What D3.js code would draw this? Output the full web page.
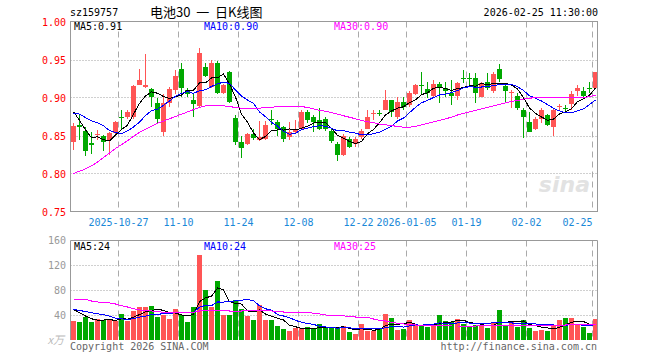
<!DOCTYPE html>
<html>
<head>
<meta charset="utf-8">
<script src="https://cdn.jsdelivr.net/npm/d3@7"></script>
<style>
body { margin: 0; background: #fff; }
svg { display: block; }
text { font-family: "DejaVu Sans Mono", monospace; font-size: 10px; }
</style>
</head>
<body>
<div id="chart"></div>
<script>
// trading days shown (88 sessions)
var dates = [
  "2025-10-15","2025-10-16","2025-10-17","2025-10-20","2025-10-21","2025-10-22","2025-10-23","2025-10-24",
  "2025-10-27","2025-10-28","2025-10-29","2025-10-30","2025-10-31",
  "2025-11-03","2025-11-04","2025-11-05","2025-11-06","2025-11-07","2025-11-10","2025-11-11","2025-11-12","2025-11-13","2025-11-14",
  "2025-11-17","2025-11-18","2025-11-19","2025-11-20","2025-11-21","2025-11-24","2025-11-25","2025-11-26","2025-11-27","2025-11-28",
  "2025-12-01","2025-12-02","2025-12-03","2025-12-04","2025-12-05","2025-12-08","2025-12-09","2025-12-10","2025-12-11","2025-12-12",
  "2025-12-15","2025-12-16","2025-12-17","2025-12-18","2025-12-19","2025-12-22","2025-12-23","2025-12-24","2025-12-25","2025-12-26",
  "2025-12-29","2025-12-30","2025-12-31",
  "2026-01-05","2026-01-06","2026-01-07","2026-01-08","2026-01-09","2026-01-12","2026-01-13","2026-01-14","2026-01-15","2026-01-16",
  "2026-01-19","2026-01-20","2026-01-21","2026-01-22","2026-01-23","2026-01-26","2026-01-27","2026-01-28","2026-01-29","2026-01-30",
  "2026-02-02","2026-02-03","2026-02-04","2026-02-05","2026-02-06","2026-02-09","2026-02-10","2026-02-11","2026-02-12","2026-02-13",
  "2026-02-24","2026-02-25"
];

var opens = [0.842,0.864,0.856,0.840,0.851,0.850,0.844,0.853,0.875,0.874,0.874,0.917,0.914,0.911,0.893,0.855,0.893,0.910,0.937,0.910,
  0.897,0.889,0.940,0.914,0.946,0.906,0.933,0.873,0.842,0.839,0.852,0.844,0.845,0.872,0.868,0.861,0.848,0.855,0.858,0.881,
  0.875,0.870,0.872,0.856,0.839,0.824,0.846,0.839,0.848,0.859,0.878,0.880,0.883,0.897,0.874,0.894,0.890,0.905,0.916,0.911,
  0.902,0.918,0.912,0.906,0.902,0.925,0.925,0.925,0.901,0.921,0.908,0.937,0.915,0.906,0.902,0.884,0.868,0.858,0.872,0.877,
  0.861,0.888,0.886,0.892,0.908,0.908,0.913,0.912];
var highs = [0.866,0.877,0.861,0.855,0.857,0.851,0.855,0.869,0.884,0.884,0.916,0.938,0.957,0.913,0.899,0.905,0.914,0.936,0.946,0.913,
  0.904,0.965,0.946,0.949,0.948,0.918,0.935,0.877,0.849,0.853,0.858,0.869,0.869,0.883,0.870,0.862,0.868,0.870,0.883,0.883,
  0.877,0.886,0.874,0.858,0.842,0.852,0.848,0.848,0.859,0.884,0.883,0.883,0.910,0.897,0.900,0.900,0.908,0.918,0.933,0.921,
  0.923,0.921,0.921,0.923,0.921,0.936,0.932,0.932,0.921,0.932,0.933,0.944,0.919,0.910,0.906,0.886,0.881,0.874,0.886,0.878,
  0.886,0.892,0.890,0.908,0.916,0.914,0.921,0.934];
var lows = [0.831,0.844,0.823,0.826,0.844,0.829,0.824,0.852,0.859,0.872,0.872,0.916,0.913,0.888,0.867,0.849,0.888,0.904,0.901,0.900,
  0.875,0.888,0.927,0.913,0.905,0.905,0.893,0.837,0.820,0.837,0.844,0.843,0.844,0.864,0.850,0.842,0.844,0.853,0.857,0.867,
  0.854,0.857,0.856,0.840,0.817,0.823,0.833,0.835,0.846,0.858,0.870,0.876,0.883,0.875,0.872,0.883,0.888,0.903,0.903,0.899,
  0.901,0.893,0.901,0.890,0.897,0.919,0.916,0.893,0.900,0.910,0.906,0.921,0.893,0.886,0.884,0.847,0.855,0.857,0.866,0.862,
  0.849,0.883,0.881,0.883,0.902,0.901,0.906,0.911];
var closes = [0.862,0.861,0.829,0.838,0.852,0.842,0.853,0.868,0.874,0.881,0.915,0.923,0.917,0.901,0.872,0.893,0.911,0.928,0.912,0.905,
  0.892,0.959,0.928,0.945,0.906,0.916,0.894,0.842,0.833,0.852,0.847,0.848,0.864,0.870,0.858,0.846,0.855,0.858,0.881,0.870,
  0.868,0.858,0.858,0.843,0.824,0.850,0.835,0.845,0.856,0.875,0.879,0.879,0.897,0.881,0.894,0.888,0.906,0.916,0.915,0.906,
  0.918,0.912,0.908,0.902,0.919,0.924,0.924,0.906,0.919,0.912,0.931,0.924,0.908,0.907,0.886,0.875,0.855,0.872,0.884,0.864,
  0.883,0.889,0.885,0.904,0.912,0.902,0.912,0.933];
// closes of the sessions just before the window (for MA5 / MA10)
var priorCloses = [0.870,0.875,0.880,0.878,0.882,0.916,0.894,0.888,0.846];
var ma30Price = [0.800,0.803,0.806,0.810,0.815,0.821,0.827,0.833,0.838,0.843,0.849,0.854,0.858,0.862,0.866,0.869,0.872,0.875,0.878,0.881,
  0.884,0.887,0.889,0.890,0.890,0.889,0.888,0.887,0.886,0.886,0.886,0.886,0.887,0.887,0.888,0.888,0.888,0.888,0.888,0.887,
  0.885,0.883,0.882,0.880,0.878,0.876,0.874,0.872,0.870,0.868,0.867,0.865,0.864,0.863,0.862,0.861,0.861,0.862,0.864,0.866,
  0.868,0.870,0.872,0.874,0.877,0.879,0.881,0.883,0.885,0.887,0.889,0.891,0.893,0.895,0.896,0.898,0.899,0.900,0.900,0.900,
  0.900,0.900,0.900,0.900,0.900,0.900,0.901,0.903];

// volume, 10k lots
var volumes = [30.9,28.8,36.3,28.8,33.6,32,32,30.9,41.6,30.9,46.9,52.8,52.8,54.4,37.3,40.5,33.6,49.6,39.5,28.8,
  52.8,136,80,52.8,94.4,40,40,64,49,39,32,56,32,32,22.4,17.6,14.4,19.7,18.7,20.3,
  17,25.6,20.3,18.7,18.7,22.4,12.8,9.6,25.6,14.9,14.9,19.2,41.6,35.2,16,17.6,32,24,22.4,21.3,
  24,40,30.4,28.8,33.6,25.6,21.3,24,22.4,19.2,28.8,48,22.4,28.8,20.8,32,18.7,14.9,16,14.4,
  24.5,32,35.2,35.2,24.5,20.8,11.2,33.6];
var priorVolumes = [48,50,49,50,48,55.3,62.8,50.8,45.2];
var ma30Vol = [65.6,65.6,65,62.4,60.8,59.7,59.2,57.6,55,52.8,50,48,46.9,46.4,45.3,44.3,44.3,43.7,43.7,44.3,
  44.3,46.4,46.9,47.5,47.5,46.9,46.4,46.4,46.4,46.9,46.9,47.5,47.5,46.4,45.3,44.8,44.8,44.8,44.3,44.3,
  42.7,41.6,40,39.5,39.5,38.9,37.3,36.8,36.8,36.3,33.6,31.5,30.4,28.3,26.7,25.6,24.5,24,23.5,22.9,
  22.9,22.6,22.6,22.4,22.4,22.4,22.4,22.4,22.6,22.6,22.9,22.9,23.2,23.2,23.5,23.5,23.5,23.5,23.7,23.7,
  24,24,24,24.3,24.3,24.5,24.5,24.5];

var tickDates = ["2025-10-27","2025-11-10","2025-11-24","2025-12-08","2025-12-22","2026-01-05","2026-01-19","2026-02-02","2026-02-25"];
var tickLabels = ["2025-10-27","11-10","11-24","12-08","12-22","2026-01-05","01-19","02-02","02-25"];
var priceTicks = [0.75,0.80,0.85,0.90,0.95,1.00];
var volTicks = [40,80,120,160];
var priceLegend = ["MA5:0.91","MA10:0.90","MA30:0.90"];
var volLegend = ["MA5:24","MA10:24","MA30:25"];
var maColors = ["#000000","#0000ff","#ff00ff"];

var width = 660, height = 360;
var left = 70.5, right = 597.5;
var upColor = "#ff5555", downColor = "#00a800";

function movingAvg(prior, vals, n) {
  var all = prior.concat(vals);
  return vals.map(function(v, i) {
    var end = i + prior.length + 1;
    return d3.mean(all.slice(end - n, end));
  });
}

var svg = d3.select("#chart").append("svg")
  .attr("width", width)
  .attr("height", height);

var idx = d3.range(dates.length);
var x = d3.scaleBand().domain(idx).range([70.5, 70.5 + 6 * dates.length]).padding(0);
var y = d3.scaleLinear().domain([0.75, 1.0]).range([211.5, 21.5]);
var yv = d3.scaleLinear().domain([0, 160]).range([340, 240]);

// header
svg.append("text").attr("x", 70).attr("y", 16).attr("fill", "#000").text("sz159757");
svg.append("text").attr("x", 150).attr("y", 17)
  .attr("xml:space", "preserve").style("white-space", "pre")
  .style("font-family", "'Noto Sans CJK SC', sans-serif").style("font-size", "13px")
  .attr("fill", "#000").text("电池30  一  日K线图");
svg.append("text").attr("x", 598).attr("y", 16).attr("text-anchor", "end").attr("fill", "#000")
  .text("2026-02-25 11:30:00");

// watermark
svg.append("text").attr("x", 590).attr("y", 192).attr("text-anchor", "end")
  .style("font-family", "'DejaVu Sans', sans-serif").style("font-size", "22px")
  .style("font-style", "italic").style("font-weight", "bold")
  .attr("fill", "#e2e2e2").text("sina");

var tickIdx = tickDates.map(function(d) { return dates.indexOf(d); });

function drawGrid(g, yScale, hTicks, top, bottom) {
  g.selectAll(".hg").data(hTicks).enter().append("line")
    .attr("x1", left).attr("x2", right)
    .attr("y1", function(d) { return Math.round(yScale(d)) + 0.5; })
    .attr("y2", function(d) { return Math.round(yScale(d)) + 0.5; })
    .attr("stroke", "#a0a0a0").attr("stroke-dasharray", "1,2");
  g.selectAll(".vg").data(tickIdx).enter().append("line")
    .attr("x1", function(i) { return x(i); }).attr("x2", function(i) { return x(i); })
    .attr("y1", top).attr("y2", bottom)
    .attr("stroke", "#aaaaaa").attr("stroke-dasharray", "6,4");
}

// ---------- price panel ----------
var main = svg.append("g");
drawGrid(main, y, [0.80, 0.85, 0.90, 0.95], 21.5, 211.5);

main.selectAll(".ylab").data(priceTicks).enter().append("text")
  .attr("x", 66).attr("y", function(d) { return y(d) + 4; })
  .attr("text-anchor", "end").attr("fill", "#ff0000")
  .text(function(d) { return d.toFixed(2); });

main.selectAll(".xlab").data(tickIdx).enter().append("text")
  .attr("x", function(i, k) { return x(i); })
  .attr("y", 226)
  .attr("text-anchor", function(i, k) { return k == tickIdx.length - 1 ? "end" : "middle"; })
  .attr("fill", "#1a88d8")
  .text(function(i, k) { return tickLabels[k]; });

var candles = main.selectAll(".c").data(idx).enter().append("g");
candles.append("rect")
  .attr("x", function(i) { return x(i) + 2.5; })
  .attr("width", 1)
  .attr("y", function(i) { return Math.round(y(highs[i])); })
  .attr("height", function(i) { return Math.max(1, Math.round(y(lows[i])) - Math.round(y(highs[i]))); })
  .attr("fill", function(i) { return closes[i] >= opens[i] ? upColor : downColor; });
candles.append("rect")
  .attr("x", function(i) { return x(i) + 0.5; })
  .attr("width", 5)
  .attr("y", function(i) { return Math.round(y(Math.max(opens[i], closes[i]))); })
  .attr("height", function(i) { return Math.max(1, Math.round(y(Math.min(opens[i], closes[i]))) - Math.round(y(Math.max(opens[i], closes[i])))); })
  .attr("fill", function(i) { return closes[i] >= opens[i] ? upColor : downColor; });

var priceMAs = [movingAvg(priorCloses, closes, 5), movingAvg(priorCloses, closes, 10), ma30Price];
var priceLine = function(arr) {
  return d3.line().x(function(d, i) { return x(i) + 3; }).y(function(d) { return y(d); })(arr);
};
priceMAs.forEach(function(arr, k) {
  main.append("path").attr("d", priceLine(arr))
    .attr("fill", "none").attr("stroke", maColors[k]).attr("stroke-width", 1)
    .attr("shape-rendering", "crispEdges");
});

main.append("rect").attr("x", left).attr("y", 21.5).attr("width", right - left).attr("height", 190)
  .attr("fill", "none").attr("stroke", "#999");

[74, 204, 334].forEach(function(px, k) {
  main.append("text").attr("x", px).attr("y", 30).attr("fill", maColors[k]).text(priceLegend[k]);
});

// ---------- volume panel ----------
var vol = svg.append("g");
drawGrid(vol, yv, [40, 80, 120], 240.5, 340);

vol.selectAll(".ylab").data(volTicks).enter().append("text")
  .attr("x", 66).attr("y", function(d) { return yv(d) + 4; })
  .attr("text-anchor", "end").attr("fill", "#999")
  .text(function(d) { return d; });
vol.append("text").attr("x", 64).attr("y", 344).attr("text-anchor", "end")
  .style("font-family", "'Noto Sans CJK SC', sans-serif").style("font-size", "11px")
  .style("font-style", "italic").attr("fill", "#bbb").text("x万");

vol.selectAll(".bar").data(idx).enter().append("rect")
  .attr("x", function(i) { return x(i) + 0.5; })
  .attr("width", 5)
  .attr("y", function(i) { return Math.round(yv(volumes[i])); })
  .attr("height", function(i) { return 340 - Math.round(yv(volumes[i])); })
  .attr("fill", function(i) { return closes[i] >= opens[i] ? upColor : downColor; });

var volMAs = [movingAvg(priorVolumes, volumes, 5), movingAvg(priorVolumes, volumes, 10), ma30Vol];
var volLine = function(arr) {
  return d3.line().x(function(d, i) { return x(i) + 3; }).y(function(d) { return yv(d); })(arr);
};
volMAs.forEach(function(arr, k) {
  vol.append("path").attr("d", volLine(arr))
    .attr("fill", "none").attr("stroke", maColors[k]).attr("stroke-width", 1)
    .attr("shape-rendering", "crispEdges");
});

vol.append("path").attr("d", "M" + left + ",340V240.5H" + right + "V340")
  .attr("fill", "none").attr("stroke", "#999");

[74, 204, 334].forEach(function(px, k) {
  vol.append("text").attr("x", px).attr("y", 250).attr("fill", maColors[k]).text(volLegend[k]);
});

svg.append("text").attr("x", 70).attr("y", 350).attr("fill", "#666").text("Copyright 2026 SINA.COM");
svg.append("text").attr("x", 597).attr("y", 350).attr("text-anchor", "end").attr("fill", "#666")
  .text("http://finance.sina.com.cn");
</script>
</body>
</html>
